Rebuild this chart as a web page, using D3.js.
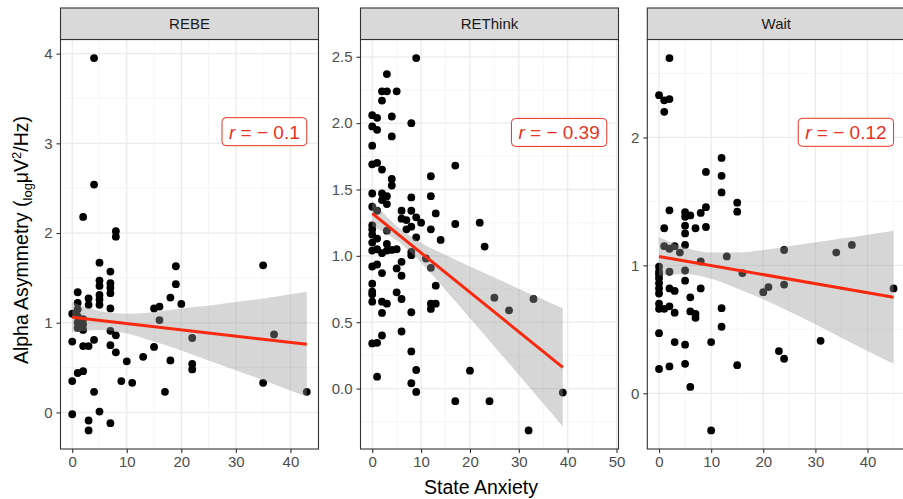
<!DOCTYPE html>
<html>
<head>
<meta charset="utf-8">
<script src="https://cdn.jsdelivr.net/npm/d3@7"></script>
<style>
  body { margin: 0; background: #fff; }
  svg { display: block; font-family: "Liberation Sans", Arial, sans-serif; }
</style>
</head>
<body>
<div id="chart"></div>
<script>
// facet names
var groups = ["REBE", "REThink", "Wait"];

// [state anxiety, alpha asymmetry]
var rebePoints = [
  [4,3.95],[4,2.54],[2,2.18],[8,2.02],[8,1.96],
  [5,1.67],[7,1.57],[5,1.47],[5,1.41],[7,1.44],[7,1.39],[7,1.33],[5,1.31],[5,1.26],[5,1.20],[7,1.16],
  [1,1.34],[3,1.27],[3,1.20],[1,1.22],[0,1.10],[1,1.15],[1,1.07],[2,1.04],[1,0.94],[2,0.92],[1,1.00],[2,0.98],[1.5,0.96],
  [0,0.79],[2,0.74],[3,0.74],[4,0.81],[7,0.91],[8,0.86],[7,0.75],[8,0.67],[10,0.57],[13,0.62],[9,0.35],[11,0.33],[4,0.23],
  [0,0.35],[1,0.44],[2,0.46],[0,-0.02],[5,0.01],[3,-0.09],[3,-0.20],[7,-0.12],
  [15,0.73],[15,1.16],[16,1.18],[16,1.03],[18,1.28],[19,1.63],[19,1.43],[20,1.21],[18,0.58],[17,0.23],[22,0.83],[22,0.54],[22,0.48],
  [35,1.64],[35,0.33],[37,0.87],[43,0.23]
];
var rethinkPoints = [
  [9,2.49],[3,2.37],[2,2.24],[3,2.24],[5,2.24],[2,2.17],[0,2.06],[1,2.04],[4,2.05],[8,2.00],[0,1.975],[1,1.95],[4,1.90],
  [0,1.83],[0,1.69],[1,1.70],[2,1.65],[4,1.58],[4,1.53],[12,1.60],[17,1.68],
  [0,1.47],[2,1.47],[3,1.45],[2,1.42],[8,1.44],[12,1.45],[3,1.39],[0,1.37],[1,1.34],[6,1.34],[8,1.34],[6,1.28],[7,1.27],
  [9,1.29],[10,1.25],[13,1.32],[17,1.24],[22,1.25],[12,1.20],[0,1.20],[0,1.16],[3,1.19],[9,1.14],[14,1.12],[23,1.07],
  [7,1.20],[8,1.22],[0,1.23],[0,1.10],[0,1.04],[1,1.13],
  [1,1.05],[2,1.02],[3,1.04],[4,1.045],[5,1.05],[3,1.09],[8,1.005],[8,1.03],[11,0.98],[12,0.91],[0,0.92],[1,0.935],
  [2,0.87],[5,0.905],[6,0.955],[6,0.85],[0,0.79],[0,0.73],[0,0.71],[0,0.655],[2,0.655],[3,0.64],[5,0.725],[6,0.675],
  [13,0.775],[12,0.64],[12,0.60],[13,0.64],[2,0.57],[8,0.575],[25,0.685],[28,0.59],[33,0.675],[6,0.43],[2,0.40],
  [0,0.34],[1,0.345],[8,0.28],[1,0.09],[9,0.14],[20,0.135],[8,0.04],[9,-0.025],[17,-0.095],[24,-0.095],[32,-0.315],[39,-0.03]
];
var waitPoints = [
  [2,2.62],[0,2.33],[1,2.29],[2,2.30],[1,2.20],[12,1.84],[9,1.73],[12,1.70],[12,1.57],[15,1.49],[15,1.42],[2,1.43],
  [5,1.415],[6,1.39],[5,1.38],[8,1.41],[9,1.455],[1,1.29],[5,1.31],[5,1.25],[7,1.29],[9,1.30],
  [1,1.15],[2,1.13],[3,1.15],[4,1.10],[5,1.16],[13,1.07],[24,1.12],[34,1.10],[37,1.16],[8,1.03],[2,0.95],[5,0.96],
  [16,0.94],[5,0.88],[2,0.82],[3,0.80],[8,0.82],[20,0.79],[21,0.83],[24,0.85],[45,0.82],
  [0,0.99],[0,0.95],[0,0.93],[0,0.90],[0,0.86],[0,0.82],[0,0.78],[0,0.70],[0,0.66],[0,0.47],[0,0.19],
  [1,0.66],[2,0.68],[3,0.63],[6,0.75],[6,0.64],[7,0.62],[7,0.59],[12,0.665],[12,0.52],[3,0.40],[5,0.38],[10,0.40],
  [31,0.41],[23,0.33],[24,0.27],[2,0.21],[5,0.23],[15,0.22],[6,0.05],[10,-0.29]
];

// linear fit ends and confidence band [x, low, high]
var rebeFit = [[0,1.06],[43,0.76]];
var rethinkFit = [[0,1.32],[39,0.16]];
var waitFit = [[0,1.07],[45,0.75]];
var rebeBand = [[0,0.89,1.23],[5,0.92,1.13],[10,0.88,1.10],[15,0.79,1.12],[20,0.69,1.16],[25,0.58,1.19],[30,0.47,1.23],[35,0.36,1.27],[43,0.175,1.345]];
var rethinkBand = [[0,1.224,1.416],[5,1.117,1.225],[10,0.948,1.098],[15,0.742,1.006],[20,0.53,0.92],[25,0.317,0.837],[30,0.103,0.753],[35,-0.113,0.671],[39,-0.285,0.605]];
var waitBand = [[0,0.92,1.22],[5,0.93,1.14],[10,0.895,1.10],[15,0.82,1.10],[20,0.735,1.12],[25,0.64,1.15],[30,0.54,1.18],[35,0.435,1.21],[40,0.33,1.24],[45,0.23,1.27]];

// correlation labels and where they sit
var rLabels = ["\u22120.1", "\u22120.39", "\u22120.12"];
var labelPos = [[43,3.13],[48,1.93],[45,2.04]];

// tick values
var xTicks = [[0,10,20,30,40],[0,10,20,30,40,50],[0,10,20,30,40]];
var yTicks = [[0,1,2,3,4],[0,0.5,1,1.5,2,2.5],[0,1,2]];
var yFormats = ["d", ".1f", "d"];

var pointSets = [rebePoints, rethinkPoints, waitPoints];
var fits = [rebeFit, rethinkFit, waitFit];
var bands = [rebeBand, rethinkBand, waitBand];

var svgWidth = 903;
var svgHeight = 499;
var panelLeft = [60.5, 360.5, 647.3];
var panelW = 258;
var stripTop = 8;
var panelTop = 39.5;
var panelBottom = 449;

var svg = d3.select("#chart").append("svg")
  .attr("width", svgWidth)
  .attr("height", svgHeight);

function expand(ext) {
  var d = (ext[1] - ext[0]) * 0.05;
  return [ext[0] - d, ext[1] + d];
}

groups.forEach(function(name, i) {
  var pts = pointSets[i];
  var band = bands[i];
  var left = panelLeft[i];

  var xExt = d3.extent(pts.map(d => d[0]).concat([labelPos[i][0]]));
  var yExt = d3.extent(pts.map(d => d[1]).concat(band.map(d => d[1]), band.map(d => d[2])));

  var x = d3.scaleLinear().domain(expand(xExt)).range([left, left + panelW]);
  var y = d3.scaleLinear().domain(expand(yExt)).range([panelBottom, panelTop]);

  var g = svg.append("g");

  g.append("clipPath").attr("id", "clip" + i)
    .append("rect")
    .attr("x", left).attr("y", panelTop)
    .attr("width", panelW).attr("height", panelBottom - panelTop);

  // grid
  var xStep = xTicks[i][1] - xTicks[i][0];
  var yStep = yTicks[i][1] - yTicks[i][0];
  var xd = x.domain(), yd = y.domain();
  var xMinor = d3.range(xTicks[i][0] - xStep / 2, xd[1], xStep).filter(v => v > xd[0]);
  var yMinor = d3.range(yTicks[i][0] - yStep / 2, yd[1], yStep).filter(v => v > yd[0]);

  var grid = g.append("g").attr("clip-path", "url(#clip" + i + ")");
  grid.selectAll(".xmin").data(xMinor).enter().append("line")
    .attr("x1", d => x(d)).attr("x2", d => x(d))
    .attr("y1", panelTop).attr("y2", panelBottom)
    .attr("stroke", "#F2F2F2").attr("stroke-width", 0.7);
  grid.selectAll(".ymin").data(yMinor).enter().append("line")
    .attr("y1", d => y(d)).attr("y2", d => y(d))
    .attr("x1", left).attr("x2", left + panelW)
    .attr("stroke", "#F2F2F2").attr("stroke-width", 0.7);
  grid.selectAll(".xmaj").data(xTicks[i]).enter().append("line")
    .attr("x1", d => x(d)).attr("x2", d => x(d))
    .attr("y1", panelTop).attr("y2", panelBottom)
    .attr("stroke", "#EBEBEB").attr("stroke-width", 1.3);
  grid.selectAll(".ymaj").data(yTicks[i]).enter().append("line")
    .attr("y1", d => y(d)).attr("y2", d => y(d))
    .attr("x1", left).attr("x2", left + panelW)
    .attr("stroke", "#EBEBEB").attr("stroke-width", 1.3);

  var plot = g.append("g").attr("clip-path", "url(#clip" + i + ")");

  // points
  plot.selectAll("circle").data(pts).enter().append("circle")
    .attr("cx", d => x(d[0]))
    .attr("cy", d => y(d[1]))
    .attr("r", 3.9)
    .attr("fill", "#000");

  // confidence band
  var area = d3.area()
    .x(d => x(d[0]))
    .y0(d => y(d[1]))
    .y1(d => y(d[2]))
    .curve(d3.curveMonotoneX);
  plot.append("path").datum(band)
    .attr("d", area)
    .attr("fill", "#999999")
    .attr("fill-opacity", 0.4);

  // fit line
  plot.append("path").datum(fits[i])
    .attr("d", d3.line().x(d => x(d[0])).y(d => y(d[1])))
    .attr("stroke", "#F8290F")
    .attr("stroke-width", 3)
    .attr("fill", "none");

  // r label
  var lab = g.append("g");
  var txt = lab.append("text")
    .attr("x", x(labelPos[i][0]) - 7)
    .attr("y", y(labelPos[i][1]))
    .attr("dy", "0.36em")
    .attr("text-anchor", "end")
    .attr("fill", "#E8321E")
    .style("font-size", "19px");
  txt.append("tspan").style("font-style", "italic").text("r");
  txt.append("tspan").text(" = " + rLabels[i].replace("\u2212", "\u2212 "));
  var bb = txt.node().getBBox();
  lab.insert("rect", "text")
    .attr("x", bb.x - 7)
    .attr("y", y(labelPos[i][1]) - 14)
    .attr("width", bb.width + 14)
    .attr("height", 28)
    .attr("rx", 4)
    .attr("fill", "#fff")
    .attr("stroke", "#E8321E")
    .attr("stroke-width", 1);

  // panel border
  g.append("rect")
    .attr("x", left).attr("y", panelTop)
    .attr("width", panelW).attr("height", panelBottom - panelTop)
    .attr("fill", "none").attr("stroke", "#333").attr("stroke-width", 1.1);

  // strip
  g.append("rect")
    .attr("x", left).attr("y", stripTop)
    .attr("width", panelW).attr("height", panelTop - stripTop)
    .attr("fill", "#D9D9D9").attr("stroke", "#333").attr("stroke-width", 1.1);
  g.append("text")
    .attr("x", left + panelW / 2)
    .attr("y", (stripTop + panelTop) / 2)
    .attr("dy", "0.36em")
    .attr("text-anchor", "middle")
    .attr("fill", "#1A1A1A")
    .style("font-size", "15px")
    .text(name);

  // axes
  var xAxis = g.append("g")
    .attr("transform", "translate(0," + panelBottom + ")")
    .call(d3.axisBottom(x).tickValues(xTicks[i]).tickSize(4).tickPadding(3));
  var yAxis = g.append("g")
    .attr("transform", "translate(" + left + ",0)")
    .call(d3.axisLeft(y).tickValues(yTicks[i]).tickFormat(d3.format(yFormats[i])).tickSize(4).tickPadding(4));
  [xAxis, yAxis].forEach(function(a) {
    a.select(".domain").remove();
    a.selectAll(".tick line").attr("stroke", "#333").attr("stroke-width", 1.1);
    a.selectAll(".tick text")
      .attr("fill", "#4D4D4D")
      .style("font-size", "15px")
      .style("font-family", "'Liberation Sans', Arial, sans-serif");
  });
});

// axis titles
svg.append("text")
  .attr("x", 481)
  .attr("y", 494)
  .attr("text-anchor", "middle")
  .style("font-size", "19.5px")
  .text("State Anxiety");

var yTitle = svg.append("text")
  .attr("transform", "translate(28,240) rotate(-90)")
  .attr("text-anchor", "middle")
  .style("font-size", "19.5px");
yTitle.append("tspan").text("Alpha Asymmetry (");
yTitle.append("tspan").attr("dy", 4).style("font-size", "13px").text("log");
yTitle.append("tspan").attr("dy", -4).text("\u03BCV");
yTitle.append("tspan").attr("dy", -7).style("font-size", "13px").text("2");
yTitle.append("tspan").attr("dy", 7).text("/Hz)");
</script>
</body>
</html>
